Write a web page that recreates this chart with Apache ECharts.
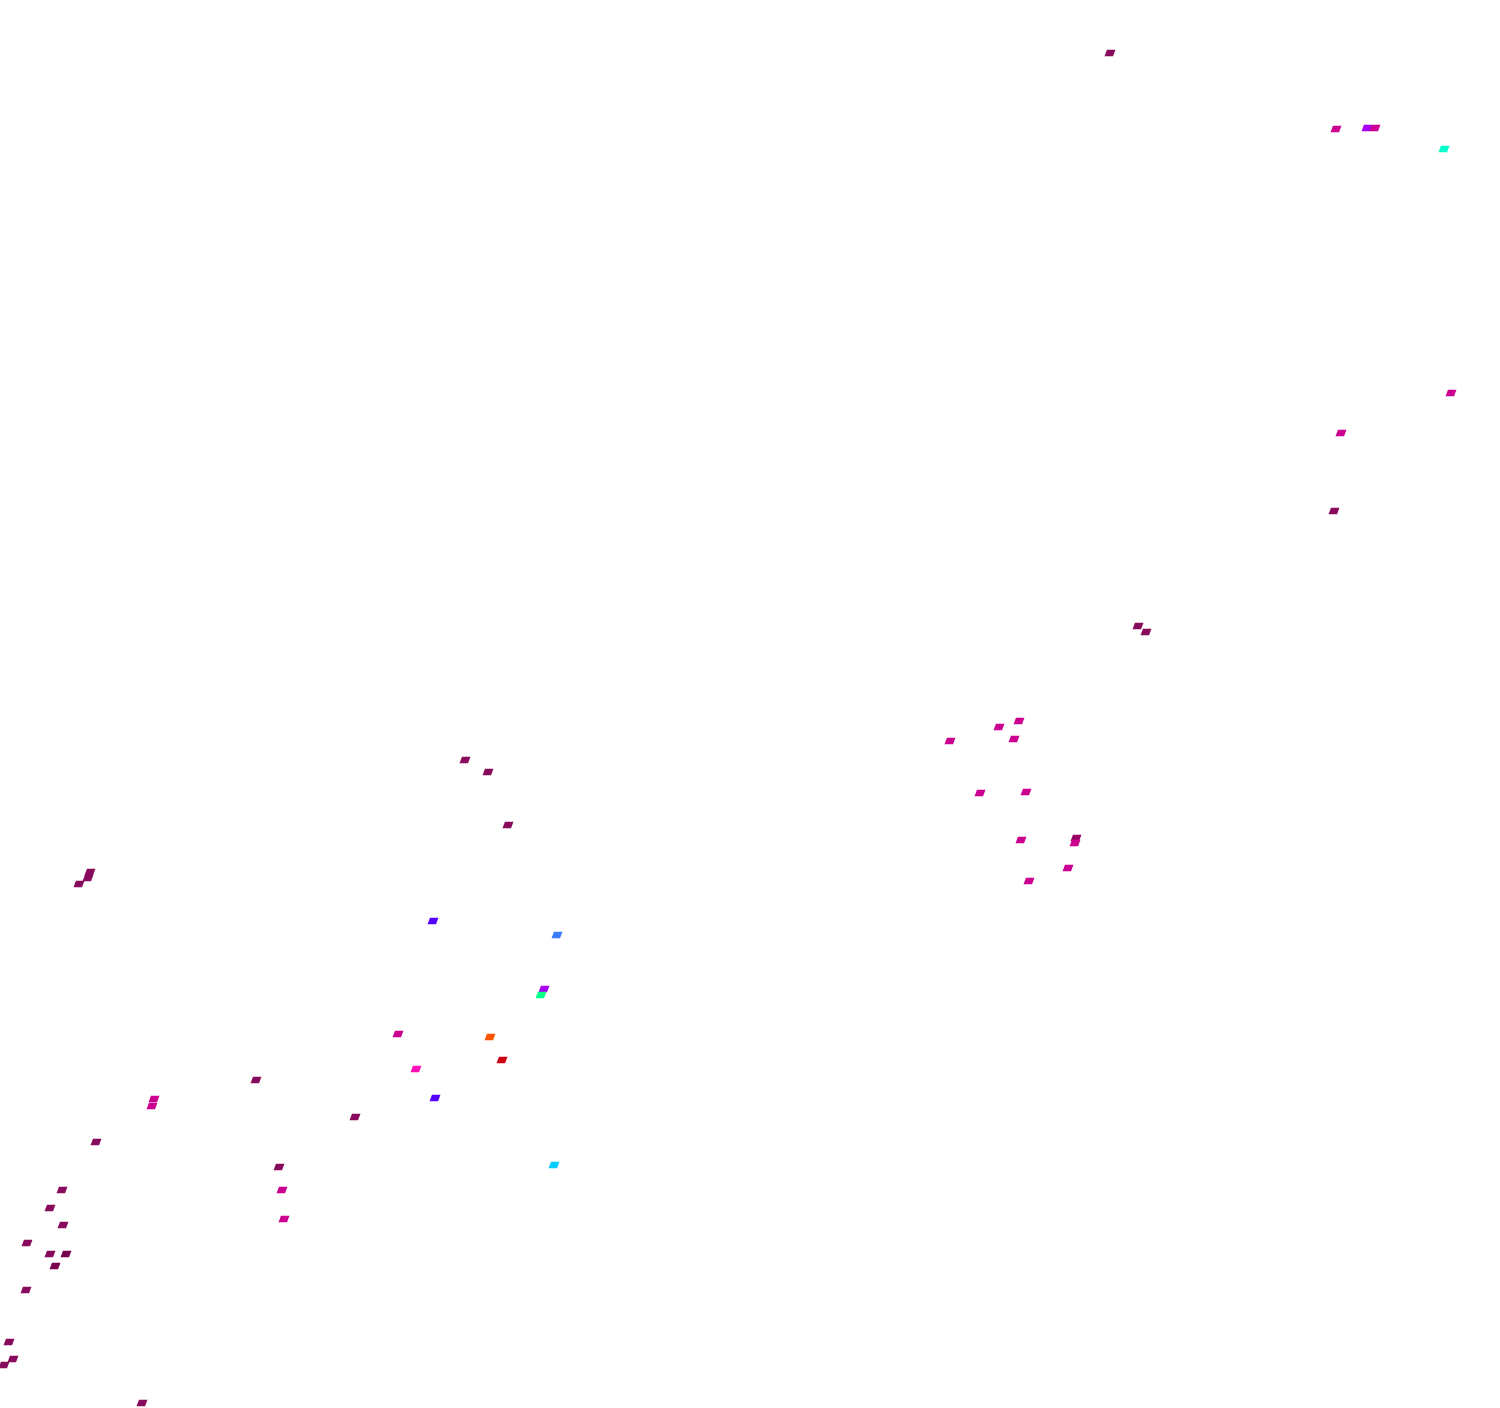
<!DOCTYPE html>
<html>
<head>
<meta charset="utf-8">
<script src="https://cdn.jsdelivr.net/npm/echarts@6/dist/echarts.min.js"></script>
<style>html,body{margin:0;padding:0;background:#fff}#c{width:1500px;height:1408px}</style>
</head>
<body>
<div id="c"></div>
<script>
// point positions (horizontal, vertical) and colour group
const xs = [1110,1336,1367,1375,1444,1451,1341,1334,1138,1146,
            1019,999,950,1014,980,1026,1021,1076,1075,1068,1029,
            465,488,508,90,88,79,
            433,557,544,541,398,490,502,416,435,554,
            256,154,152,355,96,279,282,284,
            62,50,63,27,50,66,55,26,9,13,4,142];
const ys = [53,129,128,128,149,393,433,511,626,632,
            721,727,741,739,793,792,840,838,843,868,881,
            760,772,825,872,878,884,
            921,935,989,995,1034,1037,1060,1069,1098,1165,
            1080,1099,1106,1117,1142,1167,1190,1219,
            1190,1208,1225,1243,1254,1254,1266,1290,1342,1359,1365,1403];
const groups = [0,1,2,1,3,1,1,0,0,0,
                1,1,1,1,1,1,1,10,1,1,1,
                0,0,0,0,0,0,
                4,5,2,6,1,7,8,9,4,11,
                0,1,1,0,0,0,1,1,
                0,0,0,0,0,12,12,0,0,0,0,0];
const palette = ['#870a5c','#cc0090','#a800f0','#00ffcc','#5500ff','#3a7aff','#00ff88','#ff5500','#cc0010','#ff10b8','#990066','#00ccff','#7a0050'];

const data = xs.map((x,i)=>[x, ys[i], groups[i]]);
const chart = echarts.init(document.getElementById('c'));
chart.setOption({
  animation:false,
  grid:{left:0,right:0,top:0,bottom:0},
  xAxis:{type:'value',min:0,max:1500,show:false},
  yAxis:{type:'value',min:0,max:1408,inverse:true,show:false},
  series:[{
    type:'scatter',
    data:data,
    symbol:'path://M2.5,0 L11,0 L8.5,6 L0,6 Z',
    symbolSize:[11,6.5],
    itemStyle:{opacity:1,color:p=>palette[p.data[2]]}
  }]
});
</script>
</body>
</html>
